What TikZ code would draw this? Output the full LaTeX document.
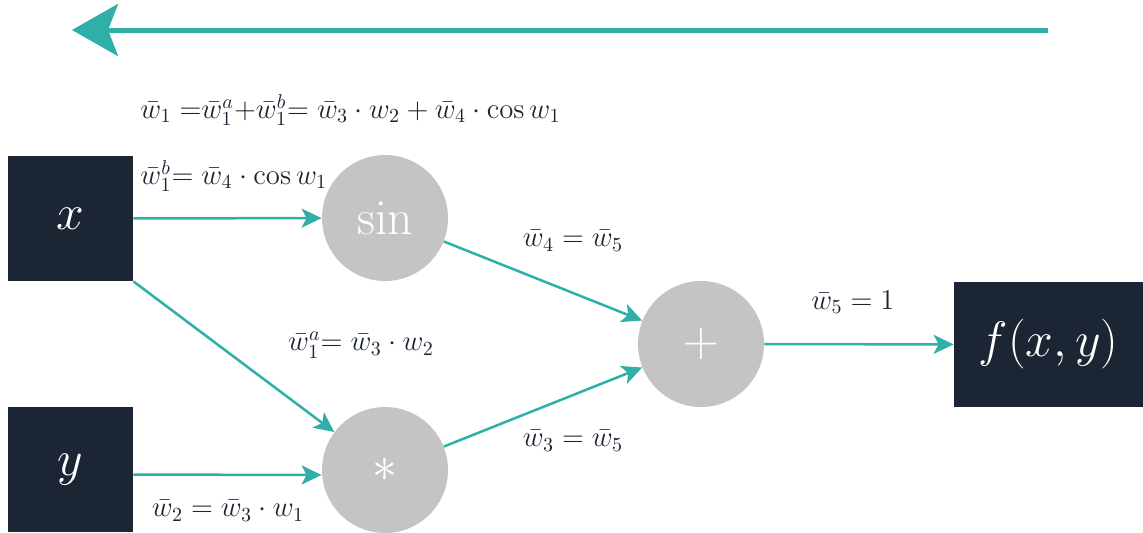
\documentclass[tikz,border=0pt]{standalone}
\usetikzlibrary{arrows.meta}
\definecolor{teal1}{HTML}{2EAFA7}
\definecolor{navy1}{HTML}{1B2533}
\definecolor{gray1}{HTML}{C4C4C4}
\tikzset{
  box/.style={fill=navy1, text=white, minimum width=62.5pt, minimum height=62.5pt, inner sep=0pt, font=\fontsize{24}{28}\selectfont},
  op/.style={circle, fill=gray1, text=white, minimum size=63pt, inner sep=0pt, font=\fontsize{24}{28}\selectfont},
  conn/.style={draw=teal1, line width=1.25pt, -{Stealth[length=10pt,width=9.5pt,inset=2.5pt]}},
  lab/.style={text=navy1, inner sep=0pt, font=\fontsize{14.3}{17}\selectfont}
}
\begin{document}
\begin{tikzpicture}[x=0.5pt,y=-0.5pt]
\useasboundingbox (0,0) rectangle (1143,532);
\clip (0,0) rectangle (1143,532);
\coordinate (ts) at (1048,30);
\coordinate (te) at (72,30);
\draw[draw=teal1, line width=2.5pt, -{Stealth[length=23pt,width=26pt,inset=5pt]}] (ts) -- (te);
\node[box] (x) at (70.5,218.5) {$x$};
\node[box] (y) at (70.5,469.5) {$y$};
\node[box, minimum width=94.5pt] (f) at (1048.5,344.5) {$f(x,y)$};
\node[op] (sin) at (385,218) {$\sin$};
\node[op] (mul) at (385,470) {$*$};
\node[op] (add) at (701,344) {$+$};
\draw[conn] (x) -- (sin);
\draw[conn] (x.south east) -- (mul);
\draw[conn] ([yshift=-2.5pt]y.east) -- ([yshift=-2.5pt]mul.west);
\draw[conn] (sin) -- (add);
\draw[conn] (mul) -- (add);
\draw[conn] (add) -- (f);
\node[lab, anchor=west] (l1) at (140,110) {$\bar{w}_1\;{=}\bar{w}^a_1{+}\bar{w}^b_1{=}\;\bar{w}_3\cdot w_2+\bar{w}_4\cdot\cos w_1$};
\node[lab, anchor=west] (l2) at (140,176) {$\bar{w}^b_1{=}\;\bar{w}_4\cdot\cos w_1$};
\node[lab] (l3) at (573,241) {$\bar{w}_4=\bar{w}_5$};
\node[lab] (l4) at (361,345) {$\bar{w}^a_1{=}\;\bar{w}_3\cdot w_2$};
\node[lab] (l5) at (573,441) {$\bar{w}_3=\bar{w}_5$};
\node[lab] (l6) at (228,511) {$\bar{w}_2=\bar{w}_3\cdot w_1$};
\node[lab] (l7) at (853,302) {$\bar{w}_5=1$};
\end{tikzpicture}
\end{document}
